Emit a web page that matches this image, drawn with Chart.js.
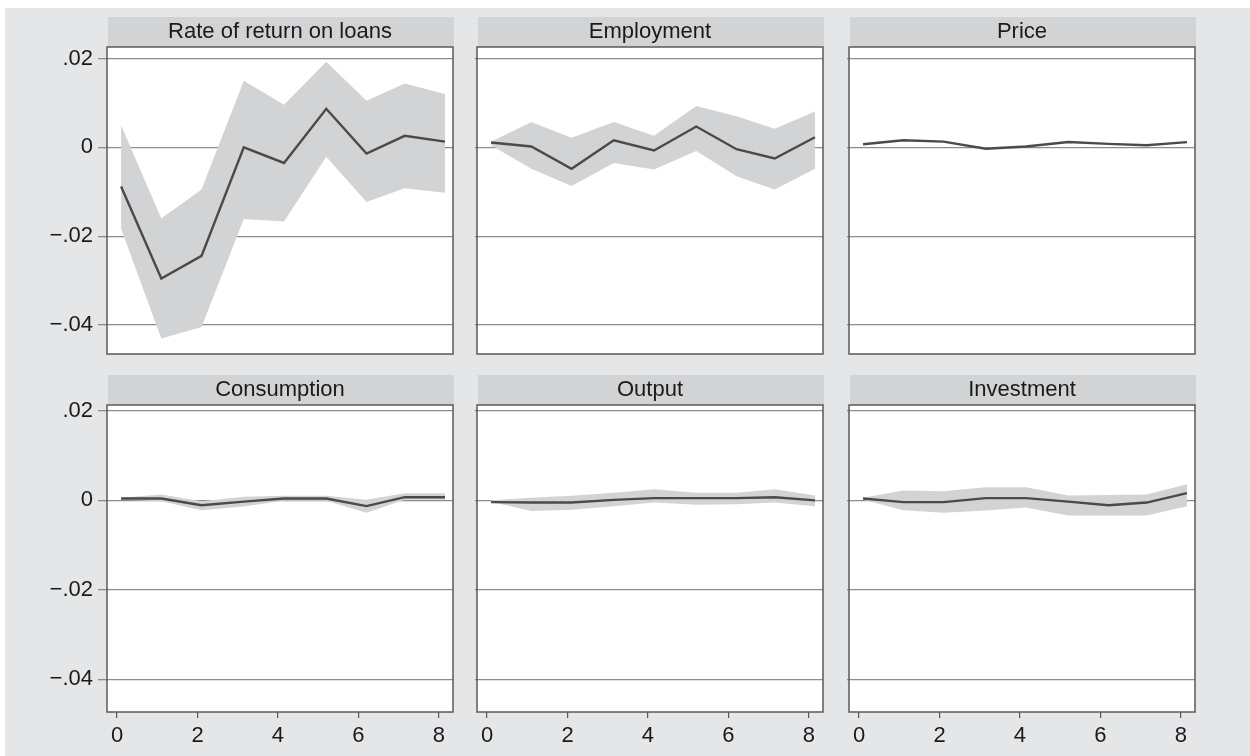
<!DOCTYPE html>
<html>
<head>
<meta charset="utf-8">
<script src="https://cdn.jsdelivr.net/npm/chart.js@4.4.1/dist/chart.umd.min.js"></script>
<style>
  html, body { margin: 0; padding: 0; background: #ffffff; }
  #page { position: relative; width: 1250px; height: 756px; overflow: hidden; }
  #bg { position: absolute; left: 5px; top: 8px; width: 1245px; height: 748px; background: #e5e6e8; }
  canvas { position: absolute; }
</style>
</head>
<body>
<div id="page">
  <div id="bg"></div>
</div>
<script>
// ---------------- data ----------------
const horizon = [0.1, 1.1, 2.1, 3.15, 4.15, 5.2, 6.2, 7.15, 8.15];

const panelTitles = ["Rate of return on loans", "Employment", "Price",
                     "Consumption", "Output", "Investment"];

const rorIrf   = [-0.0088, -0.0295, -0.0244, 0.0000, -0.0035, 0.0087, -0.0014, 0.0026, 0.0013];
const rorUpper = [ 0.0050, -0.0160, -0.0095, 0.0150,  0.0096, 0.0193,  0.0105, 0.0144, 0.0120];
const rorLower = [-0.0183, -0.0430, -0.0404, -0.0161, -0.0167, -0.0021, -0.0123, -0.0092, -0.0102];

const empIrf   = [0.0011, 0.0002, -0.0048, 0.0016, -0.0007, 0.0047, -0.0004, -0.0025, 0.0023];
const empUpper = [0.0013, 0.0057,  0.0022, 0.0057,  0.0026, 0.0093,  0.0070,  0.0042, 0.0081];
const empLower = [0.0005, -0.0048, -0.0087, -0.0035, -0.0050, -0.0008, -0.0065, -0.0095, -0.0048];

const priceIrf   = [0.0007, 0.0016, 0.0013, -0.0003, 0.0002, 0.0012, 0.0008, 0.0005, 0.0012];
const priceUpper = [0.0008, 0.0017, 0.0014,  0.0000, 0.0004, 0.0013, 0.0009, 0.0006, 0.0013];
const priceLower = [0.0006, 0.0015, 0.0012, -0.0004, 0.0001, 0.0011, 0.0007, 0.0004, 0.0011];

const consIrf   = [0.0004, 0.0004, -0.0011, -0.0003, 0.0004, 0.0004, -0.0013, 0.0007, 0.0007];
const consUpper = [0.0006, 0.0013, -0.0002,  0.0008, 0.0010, 0.0010,  0.0001, 0.0016, 0.0016];
const consLower = [0.0001, -0.0002, -0.0022, -0.0014, -0.0001, -0.0001, -0.0028, 0.0001, 0.0001];

const outIrf   = [-0.0004, -0.0005, -0.0005, 0.0001, 0.0005, 0.0005, 0.0005, 0.0007, 0.0000];
const outUpper = [ 0.0000,  0.0006,  0.0010, 0.0017, 0.0025, 0.0017, 0.0017, 0.0025, 0.0011];
const outLower = [-0.0003, -0.0024, -0.0021, -0.0013, -0.0005, -0.0010, -0.0009, -0.0005, -0.0013];

const invIrf   = [0.0004, -0.0004, -0.0004, 0.0005, 0.0005, -0.0003, -0.0011, -0.0005, 0.0016];
const invUpper = [0.0006,  0.0022,  0.0020, 0.0029, 0.0029,  0.0011,  0.0012,  0.0013, 0.0036];
const invLower = [0.0001, -0.0022, -0.0028, -0.0023, -0.0016, -0.0034, -0.0034, -0.0034, -0.0013];

const yTicks = [-0.04, -0.02, 0, 0.02];
const yTickLabels = ["\u2212.04", "\u2212.02", "0", ".02"];
const xTicks = [0, 2, 4, 6, 8];
const xTickLabels = ["0", "2", "4", "6", "8"];

// ---------------- layout / style ----------------
const FONT = "'Liberation Sans', Arial, Helvetica, sans-serif";
const BAND = "#d2d3d5";
const LINE = "#4a4a4a";
const GRID = "#8c8c8c";

const panels = [
  { title: panelTitles[0], irf: rorIrf,   upper: rorUpper,   lower: rorLower },
  { title: panelTitles[1], irf: empIrf,   upper: empUpper,   lower: empLower },
  { title: panelTitles[2], irf: priceIrf, upper: priceUpper, lower: priceLower },
  { title: panelTitles[3], irf: consIrf,  upper: consUpper,  lower: consLower },
  { title: panelTitles[4], irf: outIrf,   upper: outUpper,   lower: outLower },
  { title: panelTitles[5], irf: invIrf,   upper: invUpper,   lower: invLower }
];

const plotLefts = [107, 477, 849];
const plotWidth = 346;
const rowTops = [17, 375];
const rowRanges = [{ min: -0.0465, max: 0.0226 }, { min: -0.0473, max: 0.0213 }];

const panelPlugin = {
  id: 'panelDecor',
  beforeDraw(chart) {
    const { ctx, chartArea: a } = chart;
    const t = chart.titleBlock;
    ctx.save();
    ctx.fillStyle = '#ffffff';
    ctx.fillRect(a.left, a.top, a.right - a.left, a.bottom - a.top);
    if (t) {
      ctx.fillStyle = BAND;
      ctx.fillRect(a.left + 1, t.top, a.right - a.left, t.bottom - t.top);
    }
    ctx.restore();
  },
  afterDraw(chart) {
    const { ctx, chartArea: a } = chart;
    ctx.save();
    ctx.strokeStyle = '#5a5a5a';
    ctx.lineWidth = 1.5;
    ctx.strokeRect(a.left, a.top, a.right - a.left, a.bottom - a.top);
    ctx.restore();
  }
};

const page = document.getElementById('page');

panels.forEach((p, idx) => {
  const row = Math.floor(idx / 3);
  const col = idx % 3;
  const yW = col === 0 ? 102 : 4;
  const xH = row === 1 ? 44 : 0;
  const padR = 3, padB = row === 0 ? 3 : 0;
  const w = yW + plotWidth + padR;
  const h = 30 + 307 + xH + padB;
  const cv = document.createElement('canvas');
  cv.width = w; cv.height = h;
  cv.style.left = (plotLefts[col] - yW) + 'px';
  cv.style.top = rowTops[row] + 'px';
  cv.style.width = w + 'px'; cv.style.height = h + 'px';
  page.appendChild(cv);

  const pts = arr => horizon.map((x, i) => ({ x: x, y: arr[i] }));

  new Chart(cv, {
    type: 'line',
    data: {
      datasets: [
        { data: pts(p.upper), borderWidth: 0, pointRadius: 0, fill: '+1', backgroundColor: BAND, borderColor: BAND, order: 2 },
        { data: pts(p.lower), borderWidth: 0, pointRadius: 0, fill: false, backgroundColor: BAND, borderColor: BAND, order: 2 },
        { data: pts(p.irf), borderWidth: 2.4, pointRadius: 0, fill: false, borderColor: LINE, order: 1 }
      ]
    },
    options: {
      animation: false,
      responsive: false,
      devicePixelRatio: 1,
      layout: { padding: { top: 0, right: padR, bottom: padB, left: 0 } },
      plugins: {
        legend: { display: false },
        tooltip: { enabled: false },
        title: {
          display: true, text: p.title, fullSize: false,
          font: { family: FONT, size: 22, weight: 'normal', lineHeight: 1.2 },
          color: '#1a1a1a',
          padding: { top: 2, bottom: 1.6 }
        }
      },
      scales: {
        x: {
          type: 'linear', min: -0.25, max: 8.35,
          display: row === 1,
          afterBuildTicks: s => { s.ticks = xTicks.map(v => ({ value: v })); },
          afterFit: s => { s.height = xH; s.paddingLeft = 0; s.paddingRight = 0; },
          grid: { drawOnChartArea: false, drawTicks: true, tickLength: 6, color: '#555555', lineWidth: 1.2 },
          border: { display: false },
          ticks: {
            padding: 5, autoSkip: false, maxRotation: 0, color: '#1a1a1a',
            font: { family: FONT, size: 22 },
            callback: v => { const i = xTicks.findIndex(t => Math.abs(t - v) < 1e-9); return i >= 0 ? xTickLabels[i] : ''; }
          }
        },
        y: {
          type: 'linear', min: rowRanges[row].min, max: rowRanges[row].max,
          afterBuildTicks: s => { s.ticks = yTicks.map(v => ({ value: v })); },
          afterFit: s => { s.width = yW; s.paddingTop = 0; s.paddingBottom = 0; },
          grid: { color: GRID, lineWidth: 1.3, drawTicks: true, tickLength: col === 0 ? 9 : 2 },
          border: { display: false },
          ticks: {
            display: col === 0, padding: 5, color: '#1a1a1a',
            font: { family: FONT, size: 22 },
            callback: v => { const i = yTicks.findIndex(t => Math.abs(t - v) < 1e-9); return i >= 0 ? yTickLabels[i] : ''; }
          }
        }
      }
    },
    plugins: [panelPlugin]
  });
});
</script>
</body>
</html>
